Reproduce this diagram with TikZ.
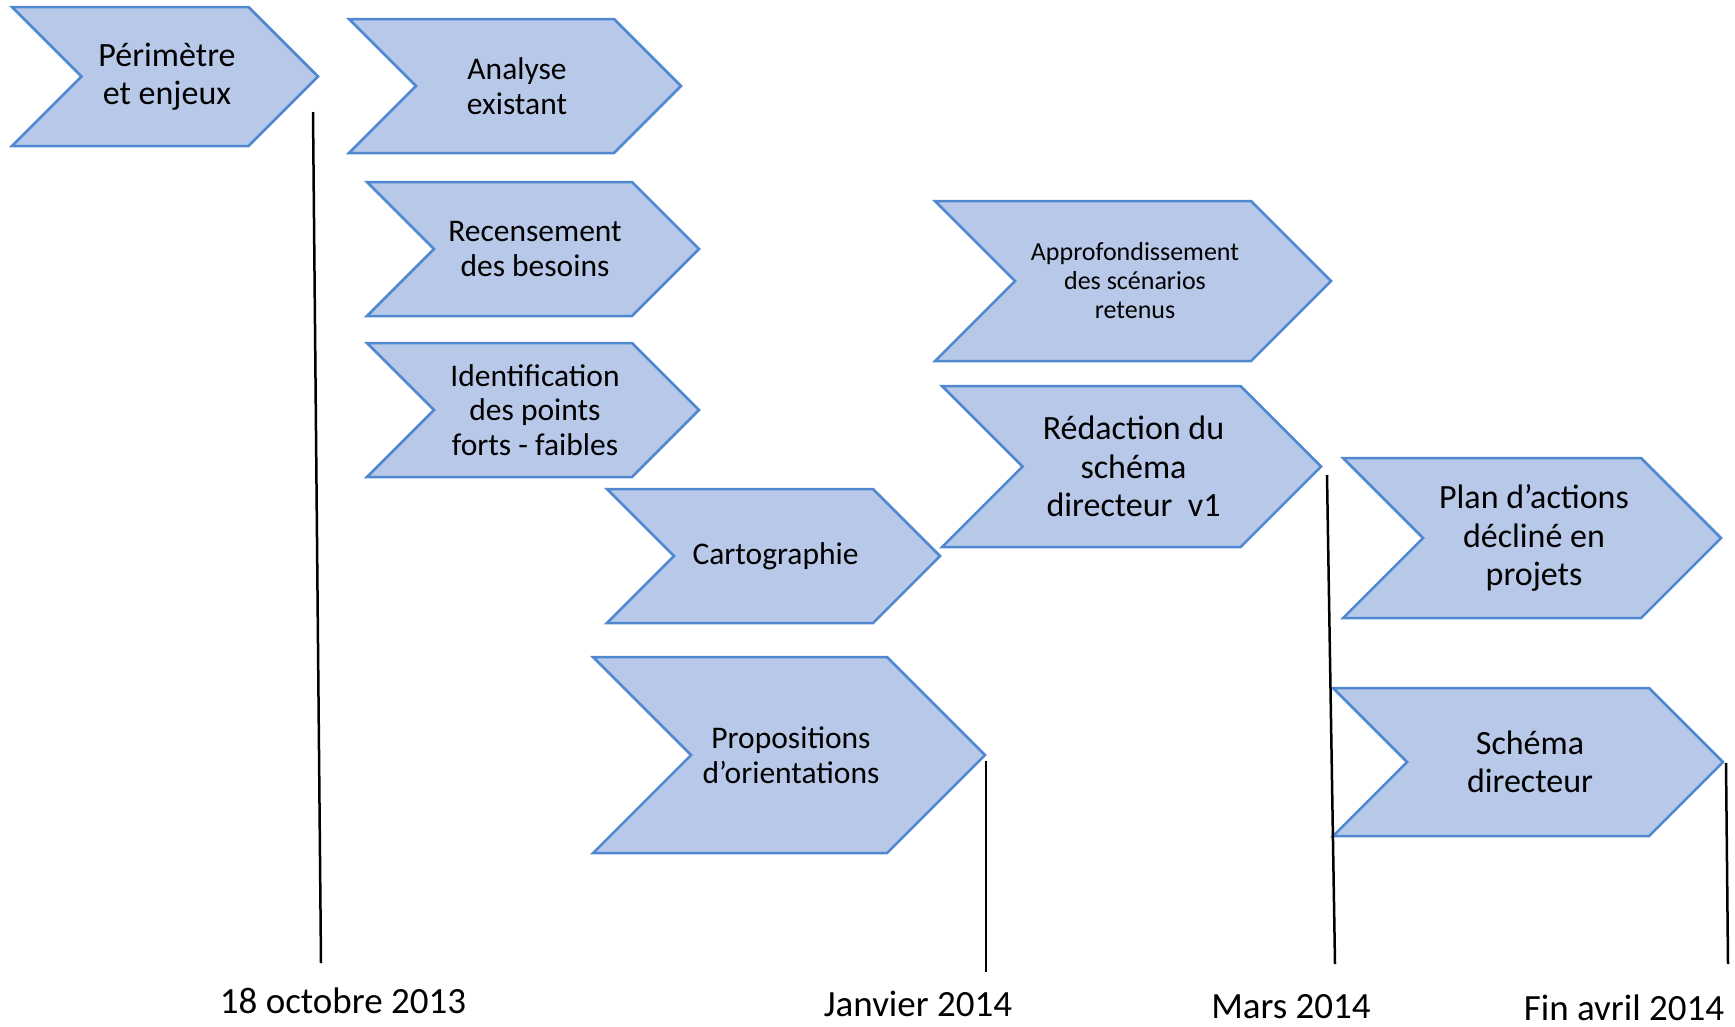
\documentclass[tikz,border=0pt]{standalone}
\usepackage{fontspec}
\setmainfont{Carlito}
\definecolor{phasefill}{HTML}{B7C8E8}
\definecolor{phaseline}{HTML}{4F88D0}
\tikzset{
    txtL/.style={font=\fontsize{34}{38.5}\selectfont},
    txtM/.style={font=\fontsize{31.5}{34.5}\selectfont},
    txtS/.style={font=\fontsize{26}{29}\selectfont},
    datelabel/.style={font=\fontsize{37}{44}\selectfont}
}

\begin{document}
\begin{tikzpicture}[x=1pt,y=-1pt,every node/.style={align=center,inner sep=0pt}]
\useasboundingbox (0,0) rectangle (1735,1026);

% Macro for one chevron: name, left, top, bottom, tip, style, text
\newcommand{\etape}[7]{
    \pgfmathsetmacro{\demi}{(#4-#3)/2}
    \filldraw[fill=phasefill,draw=phaseline,line width=2.5pt]
        (#2,#3) -- ({#5-\demi},#3) -- (#5,{#3+\demi}) -- ({#5-\demi},#4)
        -- (#2,#4) -- ({#2+\demi},{#3+\demi}) -- cycle;
    \node[#6] (#1) at ({(#2+#5)/2+2},{(#3+#4)/2}) {#7};
}

% Macro for one milestone: name, top, bottom, label position, label
\newcommand{\jalon}[8]{
    \coordinate (#1haut) at (#2,#3);
    \coordinate (#1bas) at (#4,#5);
    \draw[line width=2.5pt] (#1haut) -- (#1bas);
    \node[datelabel] (#1) at (#6,#7) {#8};
}

% Cadrage
\etape{perimetre}{12}{7}{146}{318}{txtL}{Périmètre\\et enjeux}
\etape{analyse}{349}{19}{153}{681}{txtM}{Analyse\\existant}
\etape{besoins}{367}{182}{316}{699}{txtM}{Recensement\\des besoins}
\etape{points}{367}{343}{477}{699}{txtM}{Identification\\des points\\forts - faibles}
\etape{carto}{607}{489}{623}{940}{txtM}{Cartographie}
\etape{orient}{593}{657}{853}{985}{txtM}{Propositions\\d’orientations}

% Scenarios
\etape{approf}{935}{201}{361}{1331}{txtS}{Approfondissement\\des scénarios\\retenus}
\etape{redac}{942}{386}{547}{1321}{txtL}{Rédaction du\\schéma\\directeur\ \ v1}

% Finalisation
\etape{plan}{1343}{458}{618}{1721}{txtL}{Plan d’actions\\décliné en\\projets}
\etape{schema}{1333}{688}{836}{1723}{txtL}{Schéma\\directeur}

% Jalons
\jalon{octobre}{313}{112}{321}{963}{343}{1001}{18 octobre 2013}
\jalon{janvier}{986}{761}{986}{972}{918}{1004}{Janvier 2014}
\jalon{mars}{1327}{475}{1335}{964}{1291}{1007}{Mars 2014}
\jalon{avril}{1726}{763}{1728}{964}{1624}{1008}{Fin avril 2014}

\end{tikzpicture}
\end{document}
